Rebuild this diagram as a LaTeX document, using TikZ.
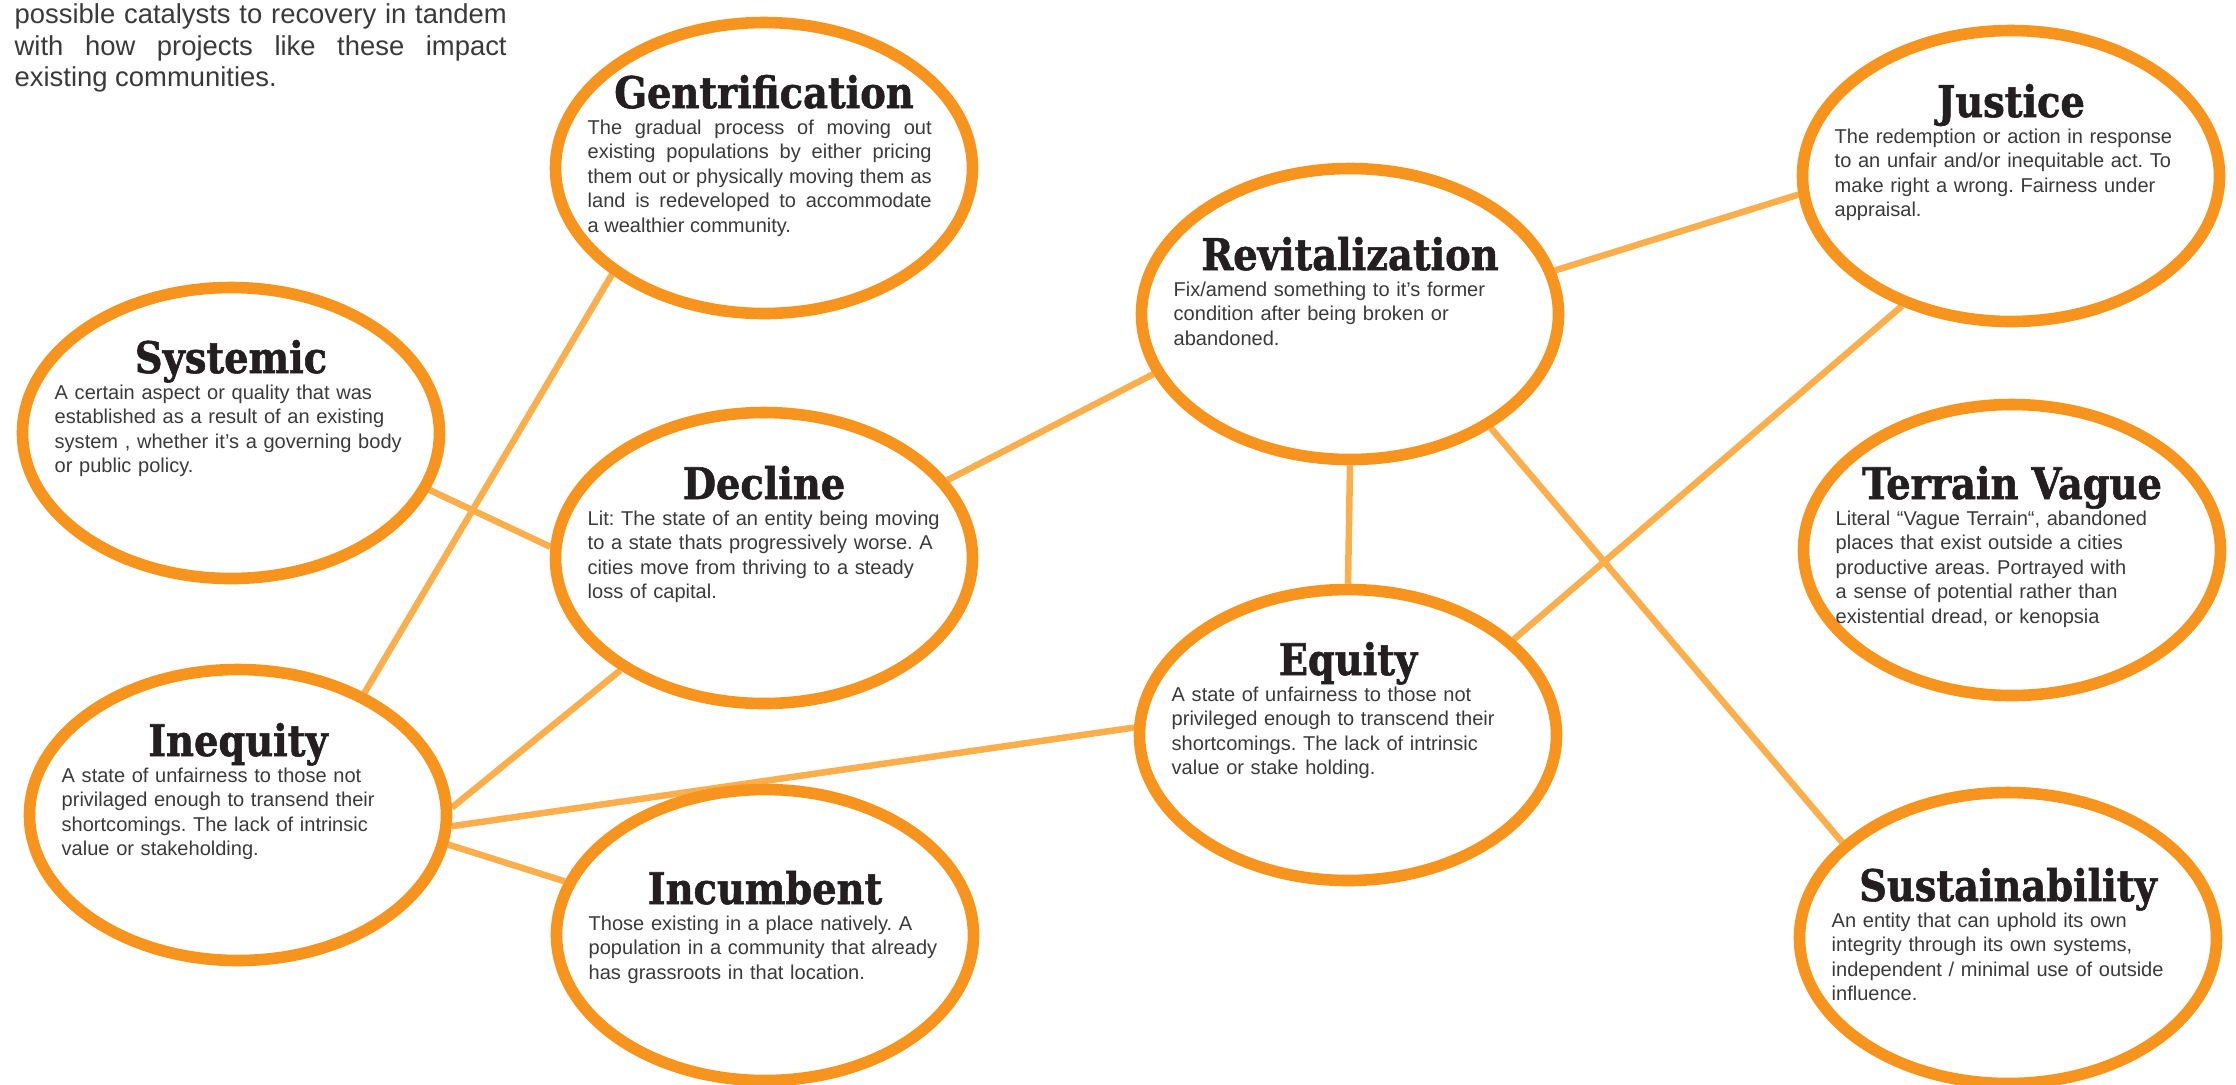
\documentclass[tikz,border=0pt]{standalone}
\usepackage{fontspec}
\setmainfont{Liberation Sans}
\newfontfamily\headfont[FakeStretch=0.88,FakeBold=1.3]{DejaVu Serif}
\usetikzlibrary{shapes.geometric}
\definecolor{ring}{HTML}{F7941E}
\definecolor{pale}{HTML}{FAAF4C}
\definecolor{ink}{HTML}{231F20}
\definecolor{copy}{HTML}{3A3A3A}
\pgfdeclarelayer{back}
\pgfsetlayers{back,main}
\frenchspacing

\begin{document}
\begin{tikzpicture}[
term/.style={ellipse,draw=ring,line width=3.3pt,fill=white,minimum width=41.7mm,
minimum height=29.1mm,inner sep=0pt},
head/.style={anchor=base,inner sep=0pt,text=ink,
font=\headfont\bfseries\fontsize{12.4}{14}\selectfont},
body/.style={anchor=north west,inner sep=0pt,text width=38mm,align=left,text=copy,
font=\fontsize{5.7}{6.97}\selectfont},
intro/.style={anchor=north west,inner sep=0pt,text width=49.2mm,align=justify,
text=copy,font=\fontsize{7.8}{8.96}\selectfont},
link/.style={draw=pale,line width=1.85pt}]
\useasboundingbox (0,0) rectangle (22.36,-10.84);

\node[intro] (intro) at (0.14,-0.03) {possible catalysts to recovery in tandem\linebreak
with how projects like these impact\linebreak existing communities.};

% left column
\node[term] (systemic) at (2.31,-4.33) {};
\node[head] (systemic-h) at ([yshift=6mm]systemic.center) {Systemic};
\node[body] (systemic-b) at ([shift={(-17.7mm,-1.1mm)}]systemic-h.base)
{A certain aspect or quality that was\\established as a result of an existing\\
system , whether it’s a governing body\\or public policy.};

\node[term] (inequity) at (2.38,-8.15) {};
\node[head] (inequity-h) at ([yshift=5.9mm]inequity.center) {Inequity};
\node[body] (inequity-b) at ([shift={(-17.7mm,-1.1mm)}]inequity-h.base)
{A state of unfairness to those not\\privilaged enough to transend their\\
shortcomings. The lack of intrinsic\\value or stakeholding.};

% middle column
\node[term] (gentr) at (7.64,-1.68) {};
\node[head] (gentr-h) at ([yshift=6mm]gentr.center) {Gentrification};
\node[body,text width=34.4mm,align=justify] (gentr-b) at ([shift={(-17.7mm,-1.1mm)}]gentr-h.base)
{The gradual process of moving out\linebreak existing populations by either pricing\linebreak
them out or physically moving them as\linebreak land is redeveloped to accommodate\linebreak
a wealthier community.};

\node[term] (decline) at (7.64,-5.58) {};
\node[head] (decline-h) at ([yshift=5.9mm]decline.center) {Decline};
\node[body] (decline-b) at ([shift={(-17.7mm,-1.1mm)}]decline-h.base)
{Lit: The state of an entity being moving\\to a state thats progressively worse. A\\
cities move from thriving to a steady\\loss of capital.};

\node[term] (incumb) at (7.65,-9.35) {};
\node[head] (incumb-h) at ([yshift=3.1mm]incumb.center) {Incumbent};
\node[body] (incumb-b) at ([shift={(-17.7mm,-1.1mm)}]incumb-h.base)
{Those existing in a place natively. A\\population in a community that already\\
has grassroots in that location.};

\node[term] (revital) at (13.50,-3.14) {};
\node[head] (revital-h) at ([yshift=4.4mm]revital.center) {Revitalization};
\node[body] (revital-b) at ([shift={(-17.7mm,-1.1mm)}]revital-h.base)
{Fix/amend something to it’s former\\condition after being broken or\\abandoned.};

\node[term] (equity) at (13.48,-7.35) {};
\node[head] (equity-h) at ([yshift=6mm]equity.center) {Equity};
\node[body] (equity-b) at ([shift={(-17.7mm,-1.1mm)}]equity-h.base)
{A state of unfairness to those not\\privileged enough to transcend their\\
shortcomings. The lack of intrinsic\\value or stake holding.};

% right column
\node[term] (justice) at (20.11,-1.76) {};
\node[head] (justice-h) at ([yshift=5.9mm]justice.center) {Justice};
\node[body] (justice-b) at ([shift={(-17.7mm,-1.1mm)}]justice-h.base)
{The redemption or action in response\\to an unfair and/or inequitable act. To\\
make right a wrong. Fairness under\\appraisal.};

\node[term] (terrain) at (20.12,-5.50) {};
\node[head] (terrain-h) at ([yshift=5.1mm]terrain.center) {Terrain Vague};
\node[body] (terrain-b) at ([shift={(-17.7mm,-1.1mm)}]terrain-h.base)
{Literal “Vague Terrain“, abandoned\\places that exist outside a cities\\
productive areas. Portrayed with\\a sense of potential rather than\\
existential dread, or kenopsia};

\node[term] (sustain) at (20.08,-9.38) {};
\node[head] (sustain-h) at ([yshift=3.7mm]sustain.center) {Sustainability};
\node[body] (sustain-b) at ([shift={(-17.7mm,-1.1mm)}]sustain-h.base)
{An entity that can uphold its own\\integrity through its own systems,\\
independent / minimal use of outside\\influence.};

% connectors under the rings
\begin{pgfonlayer}{back}
\draw[link] (gentr.215)--(inequity.44);\draw[link] (systemic.344)--(decline.177);
\draw[link] (decline.23)--(revital.197);\draw[link] (decline.218)--(inequity.2);
\draw[link] (inequity.357)--(equity.178);\draw[link] (inequity.352)--(incumb.165);
\draw[link] (revital.12)--(justice.185);\draw[link] (revital.south)--(equity.north);
\draw[link] (revital.321)--(sustain.150);\draw[link] (justice.230)--(equity.30);
\end{pgfonlayer}
\end{tikzpicture}
\end{document}
